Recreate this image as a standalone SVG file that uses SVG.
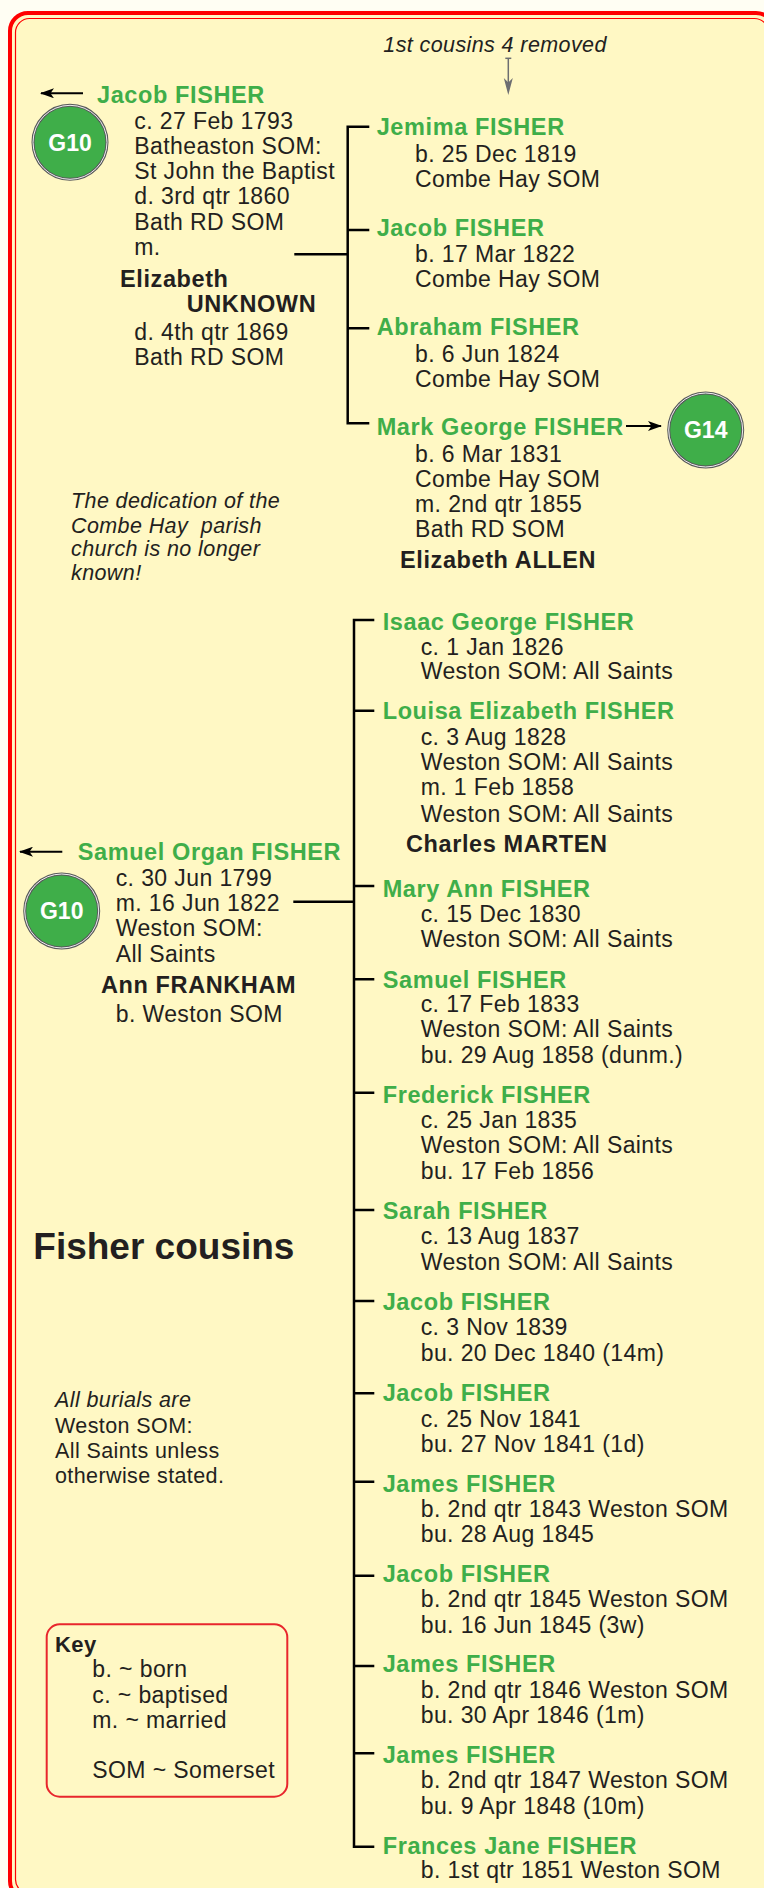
<svg xmlns="http://www.w3.org/2000/svg" width="764" height="1888" viewBox="0 0 764 1888">
<style>
text{font-family:"Liberation Sans",Arial,sans-serif;fill:#231f20}
.n{font-weight:bold;font-size:23.5px;letter-spacing:0.6px;fill:#3fae49}
.t{font-size:23px;letter-spacing:0.4px}
.s{font-weight:bold;font-size:23.5px;letter-spacing:0.6px}
.i{font-style:italic;font-size:21.5px;letter-spacing:0.4px}
.r{font-size:21.5px;letter-spacing:0.4px}
.g{font-weight:bold;font-size:23px;fill:#ffffff;text-anchor:middle}
.c{stroke:#000;stroke-width:2.5;fill:none}
.a{stroke:#000;stroke-width:2;fill:none}
</style>
<defs>
<marker id="ah" viewBox="0 0 14 10" refX="13" refY="5" markerWidth="14" markerHeight="10" markerUnits="userSpaceOnUse" orient="auto">
<path d="M0,0 L14,5 L0,10 L3.5,5 Z" fill="#000"/>
</marker>
<marker id="gh" viewBox="0 0 10 16" refX="5" refY="15.5" markerWidth="10" markerHeight="16" markerUnits="userSpaceOnUse" orient="auto">
<path d="M0,0 L5,16 L10,0 L5,5 Z" fill="#6d6e71" transform="rotate(-90 5 8)"/>
</marker>
</defs>
<rect x="0" y="0" width="764" height="1888" fill="#fffef3"/>
<rect x="10" y="13" width="764" height="1886" rx="18" fill="#fff8c4" stroke="#ff0000" stroke-width="4"/>
<rect x="15.5" y="18.5" width="753" height="1875" rx="14" fill="none" stroke="#ff0000" stroke-width="1.2"/>

<g id="connectors">
<path class="c" d="M369.3,126.7 H347.7 V423.3 H369.3 M347.7,230 H369.3 M347.7,328.3 H369.3 M294.3,254.3 H347.7"/>
<path class="c" d="M374.3,620 H354 V1846.7 H374.3 M354,710.7 H374.3 M354,886 H374.3 M354,979.3 H374.3 M354,1092.7 H374.3 M354,1210 H374.3 M354,1301 H374.3 M354,1393.3 H374.3 M354,1481.7 H374.3 M354,1575.7 H374.3 M354,1666 H374.3 M354,1753.3 H374.3 M293.3,901.7 H354"/>
<line class="a" x1="83" y1="93.3" x2="41" y2="93.3" marker-end="url(#ah)"/>
<line class="a" x1="62.3" y1="851.7" x2="20" y2="851.7" marker-end="url(#ah)"/>
<line class="a" x1="626" y1="426" x2="661" y2="426" marker-end="url(#ah)"/>
<path d="M508.3,58.3 V88" stroke="#6d6e71" stroke-width="1.5" fill="none"/>
<path d="M503.8,78 L508.3,95 L512.8,78 L508.3,82.5 Z" fill="#6d6e71"/>
<line x1="505.3" y1="58.3" x2="511.3" y2="58.3" stroke="#6d6e71" stroke-width="1.5"/>
</g>

<g id="note-cousins"><text class="i" x="383.3" y="51.7">1st cousins 4 removed</text></g>

<g id="g10-top">
<circle cx="70" cy="142.3" r="37" fill="#3fae49" stroke="#58595b" stroke-width="3"/>
<circle cx="70" cy="142.3" r="37" fill="none" stroke="#ffffff" stroke-width="0.9"/>
<text class="g" x="70" y="150.7">G10</text>
</g>

<g id="jacob-fisher-sr">
<text class="n" x="97" y="103">Jacob FISHER</text>
<text class="t" x="134.3" y="129">c. 27 Feb 1793</text>
<text class="t" x="134.3" y="154.3">Batheaston SOM:</text>
<text class="t" x="134.3" y="179.3">St John the Baptist</text>
<text class="t" x="134.3" y="204.3">d. 3rd qtr 1860</text>
<text class="t" x="134.3" y="229.7">Bath RD SOM</text>
<text class="t" x="134.3" y="255">m.</text>
<text class="s" x="120" y="287.3">Elizabeth</text>
<text class="s" x="186.7" y="311.7">UNKNOWN</text>
<text class="t" x="134.3" y="340">d. 4th qtr 1869</text>
<text class="t" x="134.3" y="365">Bath RD SOM</text>
</g>

<g id="jemima">
<text class="n" x="376.7" y="135">Jemima FISHER</text>
<text class="t" x="415" y="161.7">b. 25 Dec 1819</text>
<text class="t" x="415" y="186.7">Combe Hay SOM</text>
</g>
<g id="jacob-1822">
<text class="n" x="376.7" y="235.7">Jacob FISHER</text>
<text class="t" x="415" y="261.7">b. 17 Mar 1822</text>
<text class="t" x="415" y="286.7">Combe Hay SOM</text>
</g>
<g id="abraham">
<text class="n" x="376.7" y="335">Abraham FISHER</text>
<text class="t" x="415" y="361.7">b. 6 Jun 1824</text>
<text class="t" x="415" y="386.7">Combe Hay SOM</text>
</g>
<g id="mark-george">
<text class="n" x="376.7" y="435">Mark George FISHER</text>
<text class="t" x="415" y="461.7">b. 6 Mar 1831</text>
<text class="t" x="415" y="486.7">Combe Hay SOM</text>
<text class="t" x="415" y="511.7">m. 2nd qtr 1855</text>
<text class="t" x="415" y="536.7">Bath RD SOM</text>
<text class="s" x="400" y="568.3">Elizabeth ALLEN</text>
</g>
<g id="g14">
<circle cx="705.7" cy="430" r="37" fill="#3fae49" stroke="#58595b" stroke-width="3"/>
<circle cx="705.7" cy="430" r="37" fill="none" stroke="#ffffff" stroke-width="0.9"/>
<text class="g" x="705.7" y="438.3">G14</text>
</g>

<g id="note-dedication">
<text class="i" x="71" y="508.3">The dedication of the</text>
<text class="i" x="71" y="532.7" xml:space="preserve">Combe Hay  parish</text>
<text class="i" x="71" y="556">church is no longer</text>
<text class="i" x="71" y="580">known!</text>
</g>

<g id="isaac-george">
<text class="n" x="382.7" y="630">Isaac George FISHER</text>
<text class="t" x="420.7" y="655">c. 1 Jan 1826</text>
<text class="t" x="420.7" y="679.3">Weston SOM: All Saints</text>
</g>
<g id="louisa-elizabeth">
<text class="n" x="382.7" y="719.3">Louisa Elizabeth FISHER</text>
<text class="t" x="420.7" y="745">c. 3 Aug 1828</text>
<text class="t" x="420.7" y="770">Weston SOM: All Saints</text>
<text class="t" x="420.7" y="795">m. 1 Feb 1858</text>
<text class="t" x="420.7" y="821.7">Weston SOM: All Saints</text>
<text class="s" x="406" y="852.3">Charles MARTEN</text>
</g>

<g id="g10-mid">
<circle cx="61.7" cy="911" r="37" fill="#3fae49" stroke="#58595b" stroke-width="3"/>
<circle cx="61.7" cy="911" r="37" fill="none" stroke="#ffffff" stroke-width="0.9"/>
<text class="g" x="61.7" y="919">G10</text>
</g>
<g id="samuel-organ">
<text class="n" x="77.7" y="860">Samuel Organ FISHER</text>
<text class="t" x="115.7" y="885.7">c. 30 Jun 1799</text>
<text class="t" x="115.7" y="911">m. 16 Jun 1822</text>
<text class="t" x="115.7" y="936">Weston SOM:</text>
<text class="t" x="115.7" y="961.7">All Saints</text>
<text class="s" x="101" y="993.3">Ann FRANKHAM</text>
<text class="t" x="115.7" y="1022.3">b. Weston SOM</text>
</g>

<g id="mary-ann">
<text class="n" x="382.7" y="896.7">Mary Ann FISHER</text>
<text class="t" x="420.7" y="921.7">c. 15 Dec 1830</text>
<text class="t" x="420.7" y="946.7">Weston SOM: All Saints</text>
</g>
<g id="samuel">
<text class="n" x="382.7" y="987.7">Samuel FISHER</text>
<text class="t" x="420.7" y="1012.3">c. 17 Feb 1833</text>
<text class="t" x="420.7" y="1037.3">Weston SOM: All Saints</text>
<text class="t" x="420.7" y="1063.3">bu. 29 Aug 1858 (dunm.)</text>
</g>
<g id="frederick">
<text class="n" x="382.7" y="1103.3">Frederick FISHER</text>
<text class="t" x="420.7" y="1128.3">c. 25 Jan 1835</text>
<text class="t" x="420.7" y="1153.3">Weston SOM: All Saints</text>
<text class="t" x="420.7" y="1179">bu. 17 Feb 1856</text>
</g>
<g id="sarah">
<text class="n" x="382.7" y="1219.3">Sarah FISHER</text>
<text class="t" x="420.7" y="1244">c. 13 Aug 1837</text>
<text class="t" x="420.7" y="1270">Weston SOM: All Saints</text>
</g>
<g id="jacob-1839">
<text class="n" x="382.7" y="1310">Jacob FISHER</text>
<text class="t" x="420.7" y="1335">c. 3 Nov 1839</text>
<text class="t" x="420.7" y="1361">bu. 20 Dec 1840 (14m)</text>
</g>
<g id="jacob-1841">
<text class="n" x="382.7" y="1400.7">Jacob FISHER</text>
<text class="t" x="420.7" y="1426.7">c. 25 Nov 1841</text>
<text class="t" x="420.7" y="1451.7">bu. 27 Nov 1841 (1d)</text>
</g>
<g id="james-1843">
<text class="n" x="382.7" y="1491.7">James FISHER</text>
<text class="t" x="420.7" y="1516.7">b. 2nd qtr 1843 Weston SOM</text>
<text class="t" x="420.7" y="1542.3">bu. 28 Aug 1845</text>
</g>
<g id="jacob-1845">
<text class="n" x="382.7" y="1582.3">Jacob FISHER</text>
<text class="t" x="420.7" y="1606.7">b. 2nd qtr 1845 Weston SOM</text>
<text class="t" x="420.7" y="1632.7">bu. 16 Jun 1845 (3w)</text>
</g>
<g id="james-1846">
<text class="n" x="382.7" y="1672.3">James FISHER</text>
<text class="t" x="420.7" y="1698.3">b. 2nd qtr 1846 Weston SOM</text>
<text class="t" x="420.7" y="1723.3">bu. 30 Apr 1846 (1m)</text>
</g>
<g id="james-1847">
<text class="n" x="382.7" y="1763.3">James FISHER</text>
<text class="t" x="420.7" y="1788.3">b. 2nd qtr 1847 Weston SOM</text>
<text class="t" x="420.7" y="1814">bu. 9 Apr 1848 (10m)</text>
</g>
<g id="frances-jane">
<text class="n" x="382.7" y="1854.3">Frances Jane FISHER</text>
<text class="t" x="420.7" y="1878.3">b. 1st qtr 1851 Weston SOM</text>
</g>

<g id="title"><text x="33.3" y="1259.3" style="font-weight:bold;font-size:37px">Fisher cousins</text></g>

<g id="note-burials">
<text class="i" x="55" y="1406.7">All burials are</text>
<text class="r" x="55" y="1432.7">Weston SOM:</text>
<text class="r" x="55" y="1458.3">All Saints unless</text>
<text class="r" x="55" y="1483.3">otherwise stated.</text>
</g>

<g id="key">
<rect x="46.7" y="1624.3" width="240.6" height="172.4" rx="13" fill="none" stroke="#e8262d" stroke-width="2"/>
<text x="55" y="1651.7" style="font-weight:bold;font-size:22px;letter-spacing:0.4px">Key</text>
<text class="t" x="92.3" y="1677.3">b. ~ born</text>
<text class="t" x="92.3" y="1702.7">c. ~ baptised</text>
<text class="t" x="92.3" y="1727.7">m. ~ married</text>
<text class="t" x="92.3" y="1778.3">SOM ~ Somerset</text>
</g>
</svg>
